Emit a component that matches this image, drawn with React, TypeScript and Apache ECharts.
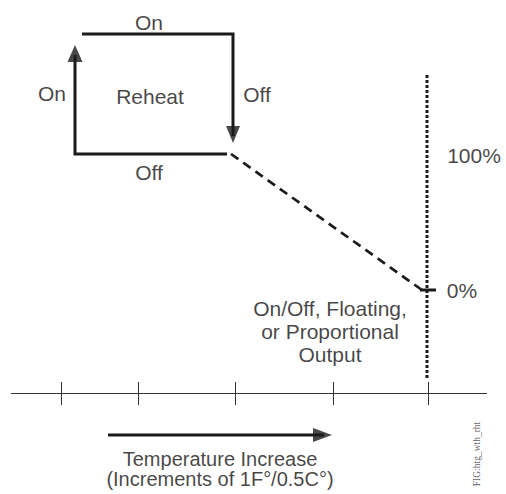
import React, { useEffect, useRef } from "react";
import * as echarts from "echarts";

// ---- Diagram data (coordinates in the diagram's own units) ----
const reheatOnPath: number[][] = [[82, 34], [233, 34], [233, 136]];
const reheatOffPath: number[][] = [[227, 154], [75, 154], [75, 55]];
const proportionalRamp: number[][] = [[231, 154], [422, 290]];
const outputBoundary: number[][] = [[427, 75], [427, 380]];
const zeroMark: number[][] = [[420, 290], [436, 290]];
const temperatureAxis: number[][] = [[11, 393.5], [487, 393.5]];
const temperatureTicks: number[] = [61, 138, 235, 333, 428];
const tickSpan: number[] = [382, 405];
const increaseArrow: number[][] = [[108, 435], [324, 435]];

// arrowheads: [x, y, rotateDeg, width, length]
const arrowHeads: number[][] = [
  [233, 134.5, 180, 14, 17],
  [75, 53.5, 0, 15, 17],
  [322.5, 435, -90, 14, 19],
];

const labelTexts: string[] = [
  "On",
  "On",
  "Reheat",
  "Off",
  "Off",
  "100%",
  "0%",
  "On/Off, Floating,\nor Proportional\nOutput",
];
const labelPositions: number[][] = [
  [149, 22],
  [52, 93],
  [150, 96],
  [257, 94],
  [149, 172],
  [474, 155],
  [462, 290],
  [330, 331],
];
const axisTitle = "Temperature Increase\n(Increments of 1F°/0.5C°)";
const axisTitlePos: number[] = [220, 469];
const figureId = "FIG:htg_wth_rht";
const figureIdPos: number[] = [477, 454];

const INK = "#1c1a1b";
const TEXT = "#151314";
const FONT = "'Liberation Sans', Arial, Helvetica, sans-serif";

function lineSeries(data: number[][], width: number, type: any = "solid", color = INK) {
  return {
    type: "line",
    data,
    symbol: "none",
    showSymbol: false,
    silent: true,
    clip: false,
    lineStyle: { color, width, type, join: "miter", cap: "butt" },
    z: 2,
  };
}

function textSeries(names: string[], positions: number[][], label: any) {
  return {
    type: "scatter",
    data: names.map((t, i) => ({ name: t, value: positions[i] })),
    symbolSize: 0,
    silent: true,
    clip: false,
    label: {
      show: true,
      position: "inside",
      formatter: (p: any) => p.name,
      align: "center",
      verticalAlign: "middle",
      ...label,
    },
    z: 4,
  };
}

export default function App() {
  const ref = useRef<HTMLDivElement>(null);

  useEffect(() => {
    document.body.style.margin = "0";
    if (!ref.current) return;
    const chart = echarts.init(ref.current, undefined, { renderer: "svg" });

    const series: any[] = [
      lineSeries(reheatOnPath, 3),
      lineSeries(reheatOffPath, 3),
      lineSeries(proportionalRamp, 2.7, [9, 6]),
      lineSeries(outputBoundary, 3, [3, 2]),
      lineSeries(zeroMark, 3),
      lineSeries(temperatureAxis, 1, "solid", "#333"),
      ...temperatureTicks.map((x) =>
        lineSeries([[x + 0.5, tickSpan[0]], [x + 0.5, tickSpan[1]]], 1, "solid", "#333")
      ),
      lineSeries(increaseArrow, 3),
      ...arrowHeads.map((a) => ({
        type: "scatter",
        data: [[a[0], a[1]]],
        symbol: "triangle",
        symbolSize: [a[3], a[4]],
        symbolRotate: a[2],
        itemStyle: { color: INK },
        silent: true,
        clip: false,
        z: 3,
      })),
      textSeries(labelTexts, labelPositions, {
        color: TEXT,
        fontFamily: FONT,
        fontSize: 21,
        lineHeight: 23,
      }),
      textSeries([axisTitle], [axisTitlePos], {
        color: TEXT,
        fontFamily: FONT,
        fontSize: 20,
        lineHeight: 20.5,
      }),
      textSeries([figureId], [figureIdPos], {
        color: "#333",
        fontFamily: "'Liberation Serif', 'Times New Roman', serif",
        fontSize: 9.5,
        rotate: 90,
      }),
    ];

    chart.setOption({
      animation: false,
      backgroundColor: "#ffffff",
      grid: { left: 0, right: 0, top: 0, bottom: 0 },
      xAxis: { type: "value", min: 0, max: 506, show: false },
      yAxis: { type: "value", min: 0, max: 494, inverse: true, show: false },
      series,
    });

    return () => chart.dispose();
  }, []);

  return <div ref={ref} style={{ width: 506, height: 494 }} />;
}
